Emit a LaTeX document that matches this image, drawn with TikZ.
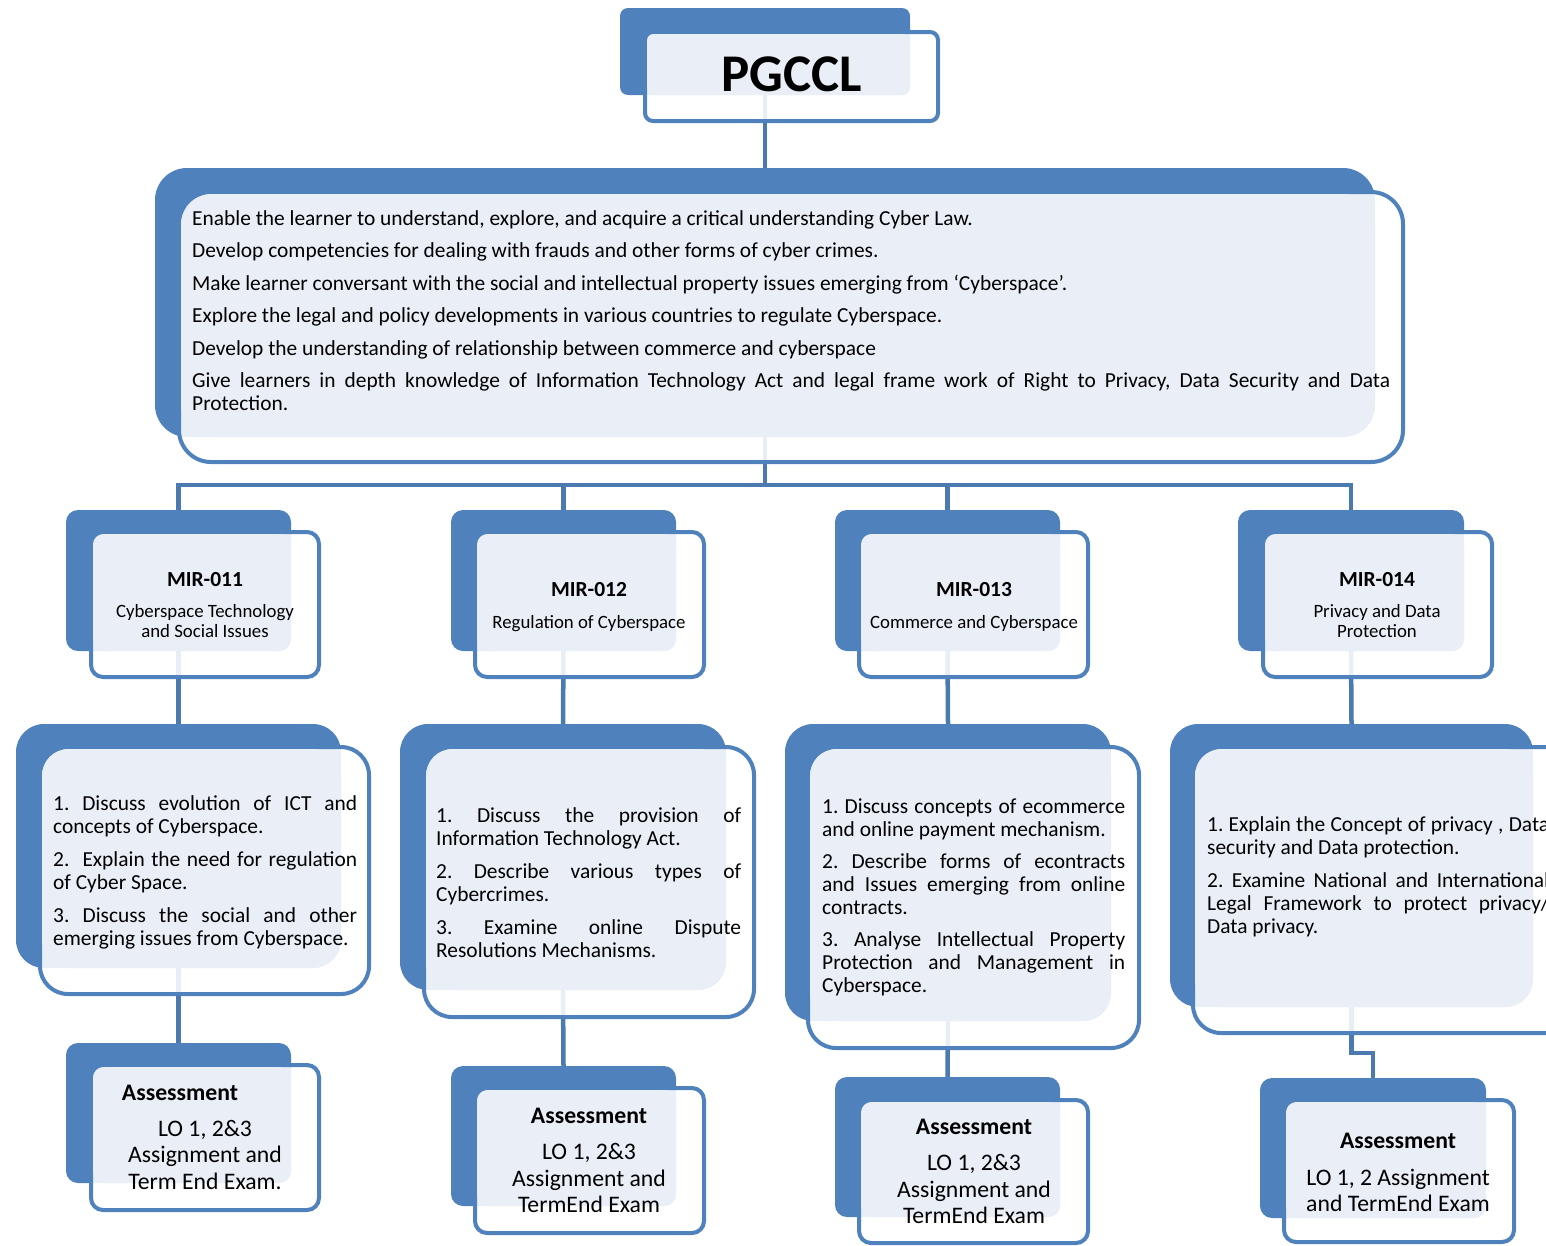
\documentclass[tikz,border=0pt]{standalone}
\usepackage{fontspec}
\setmainfont{Carlito}
\usetikzlibrary{fit,calc}
\frenchspacing
\definecolor{boxblue}{HTML}{4F81BD}
\definecolor{boxlight}{HTML}{EAEFF7}
\definecolor{linkblue}{HTML}{4A7AB0}
\pgfdeclarelayer{layerBg}
\pgfdeclarelayer{layerA}
\pgfdeclarelayer{layerConn}
\pgfdeclarelayer{layerB}
\pgfsetlayers{layerBg,layerA,layerConn,layerB,main}
\newcommand{\objfont}{\fontsize{21.4}{23}\selectfont}
\newcommand{\lofont}{\fontsize{21.4}{23}\selectfont}
\newcommand{\parstart}[1]{\setlength{\parindent}{0pt}\setlength{\parskip}{#1}\rule{0pt}{16pt}}
% #1 name, #2 A top-left, #3 A bottom-right, #4 B top-left, #5 B bottom-right, #6 radius
\newcommand{\tribox}[6]{%
  \coordinate (#1-a1) at #2; \coordinate (#1-a2) at #3;
  \coordinate (#1-b1) at #4; \coordinate (#1-b2) at #5;
  \begin{pgfonlayer}{layerA}
    \fill[boxblue, rounded corners=#6pt] (#1-a1) rectangle (#1-a2);
  \end{pgfonlayer}
  \begin{pgfonlayer}{layerB}
    \path[draw=boxblue, line width=4pt, fill=white, fill opacity=0.88, rounded corners=#6pt] (#1-b1) rectangle (#1-b2);
    \fill[boxlight, rounded corners=#6pt] ($(#1-b1)+(2,2)$) rectangle (#1-a2);
  \end{pgfonlayer}
  \node[inner sep=0pt, fit=(#1-a1)(#1-a2)] (#1) {};
}
\tikzset{
  conn/.style={draw=linkblue, line width=4.5pt},
  lotext/.style={anchor=north west, inner sep=0pt, align=justify, font=\lofont},
  mirtitle/.style={anchor=base, inner sep=0pt, font=\fontsize{21.5}{24}\selectfont\bfseries},
  mirsub/.style={anchor=base, inner sep=0pt, font=\fontsize{18.8}{21}\selectfont},
  astitle/.style={anchor=base, inner sep=0pt, font=\fontsize{23.7}{26}\selectfont\bfseries},
  asline/.style={anchor=base, inner sep=0pt, font=\fontsize{23.7}{26}\selectfont},
}
\begin{document}
\begin{tikzpicture}[x=1pt, y=-1pt]
\useasboundingbox (0,0) rectangle (1546,1245);
\begin{pgfonlayer}{layerBg}
  \fill[white] (0,0) rectangle (1546,1245);
\end{pgfonlayer}

% boxes
\tribox{pg}{(620,8)}{(910,95)}{(645,32)}{(938,121)}{8}
\tribox{top}{(155,168)}{(1375,437)}{(179,192)}{(1403,462)}{32}
\tribox{m1}{(66,510)}{(291,651)}{(91,532)}{(319,677)}{12}
\tribox{m2}{(451,510)}{(676,651)}{(475,532)}{(704,677)}{12}
\tribox{m3}{(835,510)}{(1060,651)}{(859,532)}{(1088,677)}{12}
\tribox{m4}{(1238,510)}{(1464,651)}{(1263,532)}{(1492,677)}{12}
\tribox{l1}{(16,724)}{(341,968)}{(40,747)}{(369,994)}{28}
\tribox{l2}{(400,724)}{(726,990)}{(424,747)}{(754,1017)}{28}
\tribox{l3}{(785,724)}{(1111,1021)}{(808,747)}{(1139,1048)}{28}
\tribox{l4}{(1170,724)}{(1533,1007)}{(1193,747)}{(1575,1033)}{28}
\tribox{a1}{(66,1043)}{(291,1183)}{(91,1065)}{(319,1210)}{12}
\tribox{a2}{(451,1066)}{(676,1206)}{(475,1088)}{(704,1233)}{12}
\tribox{a3}{(835,1077)}{(1060,1217)}{(859,1100)}{(1088,1243)}{12}
\tribox{a4}{(1260,1078)}{(1486,1218)}{(1284,1100)}{(1514,1242)}{12}

% connectors
\coordinate (bus) at (765,485);
\coordinate (kink) at (1362,1053);
\begin{pgfonlayer}{layerConn}
  \draw[conn] (pg.south) -- (top.north);
  \draw[conn] (top.south) -- (bus);
  \draw[conn, line cap=rect] (bus -| m1.north) -- (bus -| m4.north);
  \foreach \i in {1,2,3,4} {
    \draw[conn] (bus -| m\i.north) -- (m\i.north);
    \draw[conn] (m\i.south) -- (l\i.north);
  }
  \foreach \i in {1,2,3} \draw[conn] (l\i.south) -- (a\i.north);
  \draw[conn, line join=miter] (l4.south) |- (a4.north |- kink) -- (a4.north);
\end{pgfonlayer}

% texts
\node[anchor=base, inner sep=0pt, font=\fontsize{53}{60}\selectfont\bfseries] (pgt) at (792,91) {PGCCL};

\node[anchor=north west, inner sep=0pt, text width=1198pt, align=justify, font=\objfont] (obj) at (192,209) {\parstart{9.5pt}Enable the learner to understand, explore, and acquire a critical understanding Cyber Law.\par
Develop competencies for dealing with frauds and other forms of cyber crimes.\par
Make learner conversant with the social and intellectual property issues emerging from ‘Cyberspace’.\par
Explore the legal and policy developments in various countries to regulate Cyberspace.\par
Develop the understanding of relationship between commerce and cyberspace\par
Give learners in depth knowledge of Information Technology Act and legal frame work of Right to Privacy, Data Security and Data\linebreak Protection.};

\node[mirtitle] (m1t) at (205,586) {MIR-011};
\node[mirsub] (m1s1) at (205,617) {Cyberspace Technology};
\node[mirsub] (m1s2) at (205,637.5) {and Social Issues};
\node[mirtitle] (m2t) at (589,596) {MIR-012};
\node[mirsub] (m2s1) at (589,628) {Regulation of Cyberspace};
\node[mirtitle] (m3t) at (974,596) {MIR-013};
\node[mirsub] (m3s1) at (974,628) {Commerce and Cyberspace};
\node[mirtitle] (m4t) at (1377,586) {MIR-014};
\node[mirsub] (m4s1) at (1377,617) {Privacy and Data};
\node[mirsub] (m4s2) at (1377,637.5) {Protection};

\node[lotext, text width=304pt] (l1t) at (53,794) {\parstart{10pt}1. Discuss evolution of ICT and\linebreak concepts of Cyberspace.\par
2.\ \ Explain the need for regulation\linebreak of Cyber Space.\par
3. Discuss the social and other\linebreak emerging issues from Cyberspace.};
\node[lotext, text width=305pt] (l2t) at (436,806) {\parstart{10pt}1. Discuss the provision of\linebreak Information Technology Act.\par
2. Describe various types of\linebreak Cybercrimes.\par
3. Examine online Dispute\linebreak Resolutions Mechanisms.};
\node[lotext, text width=303pt] (l3t) at (822,797) {\parstart{9pt}1. Discuss concepts of ecommerce\linebreak and online payment mechanism.\par
2. Describe forms of econtracts\linebreak and Issues emerging from online\linebreak contracts.\par
3. Analyse Intellectual Property\linebreak Protection and Management in\linebreak Cyberspace.};
\node[lotext, text width=342pt] (l4t) at (1207,815) {\parstart{10pt}1. Explain the Concept of privacy , Data\linebreak security and Data protection.\par
2. Examine National and International\linebreak Legal Framework to protect privacy/\linebreak Data privacy.};

\node[astitle] (a1t) at (180,1100.5) {Assessment};
\node[asline] (a1l1) at (205,1136) {LO 1, 2\&3};
\node[asline] (a1l2) at (205,1162.5) {Assignment and};
\node[asline] (a1l3) at (205,1189) {Term End Exam.};
\node[astitle] (a2t) at (589,1123.5) {Assessment};
\node[asline] (a2l1) at (589,1159) {LO 1, 2\&3};
\node[asline] (a2l2) at (589,1186) {Assignment and};
\node[asline] (a2l3) at (589,1212) {TermEnd Exam};
\node[astitle] (a3t) at (974,1134.5) {Assessment};
\node[asline] (a3l1) at (974,1170) {LO 1, 2\&3};
\node[asline] (a3l2) at (974,1197) {Assignment and};
\node[asline] (a3l3) at (974,1223) {TermEnd Exam};
\node[astitle] (a4t) at (1398,1148.5) {Assessment};
\node[asline] (a4l1) at (1398,1185) {LO 1, 2 Assignment};
\node[asline] (a4l2) at (1398,1211) {and TermEnd Exam};
\end{tikzpicture}
\end{document}
